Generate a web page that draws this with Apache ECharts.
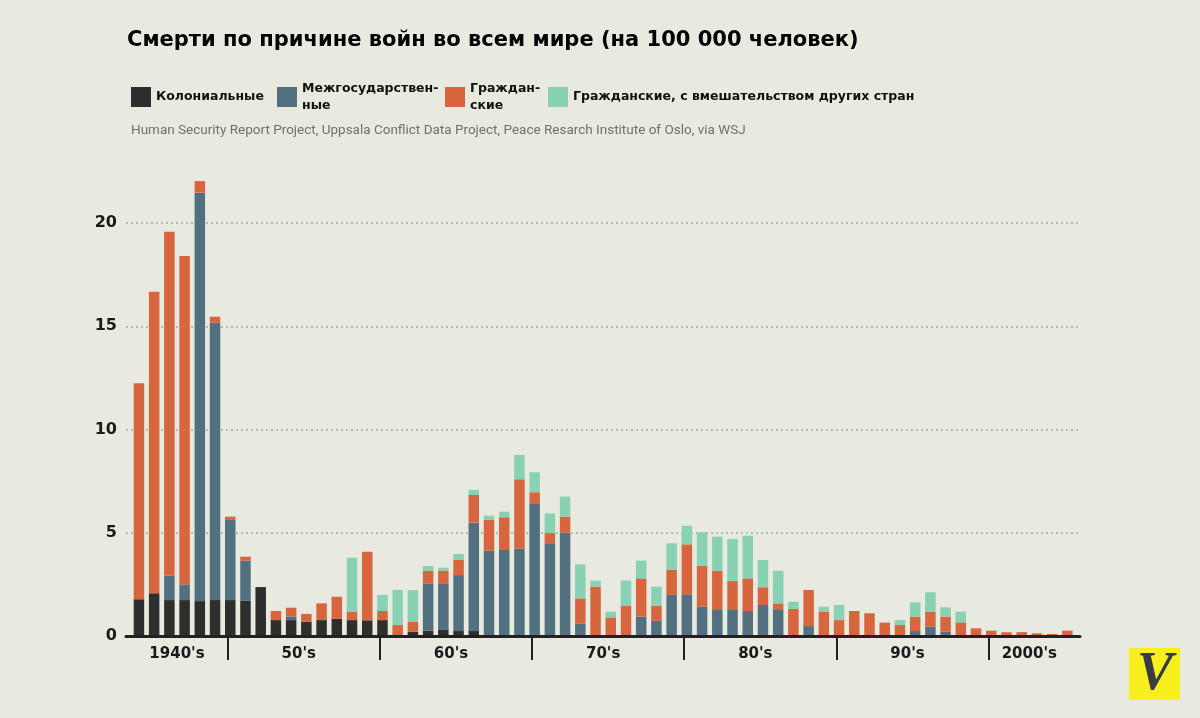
<!DOCTYPE html>
<html>
<head>
<meta charset="utf-8">
<script src="https://cdn.jsdelivr.net/npm/echarts@6/dist/echarts.min.js"></script>
<style>
html,body{margin:0;padding:0;background:#e8e9df;}
#chart{width:1200px;height:718px;}
</style>
</head>
<body>
<div id="chart"></div>
<script>
// ---- data ----
var years = [];
for (var y = 1944; y <= 2005; y++) years.push(String(y));

var seriesNames = ['Колониальные', 'Межгосударственные', 'Гражданские', 'Гражданские, с вмешательством других стран'];
var legendLabels = ['Колониальные', 'Межгосударствен-\nные', 'Граждан-\nские', 'Гражданские, с вмешательством других стран'];

var colonial = [1.78,2.07,1.74,1.74,1.69,1.74, 1.74,1.72,2.37,0.77,0.77,0.69,0.77,0.83,0.77,0.76,
  0.77,0,0.2,0.26,0.32,0.24,0.24,0,0,0, 0,0,0,0,0,0,0,0,0,0, 0,0,0,0,0,0,0,0,0,0,
  0,0,0,0,0,0,0,0,0,0, 0,0,0,0,0,0];
var interstate = [0,0,1.18,0.76,19.78,13.43, 3.88,1.93,0,0,0.17,0,0,0,0,0,
  0,0,0,2.29,2.2,2.71,5.25,4.13,4.16,4.24, 6.39,4.49,5.0,0.61,0,0,0,0.94,0.73,1.99,
  2.02,1.42,1.26,1.26,1.21,1.5,1.26,0,0.48,0, 0,0,0,0,0,0.24,0.45,0.21,0,0, 0,0,0,0,0,0];
var civil = [10.46,14.6,16.66,15.9,0.56,0.29, 0.16,0.19,0,0.44,0.43,0.38,0.81,1.07,0.41,3.32,
  0.44,0.53,0.48,0.61,0.64,0.73,1.34,1.49,1.59,3.35, 0.57,0.51,0.78,1.21,2.39,0.9,1.45,1.85,0.74,1.21,
  2.42,1.98,1.9,1.4,1.58,0.86,0.32,1.31,1.75,1.18, 0.77,1.21,1.1,0.65,0.53,0.7,0.73,0.73,0.66,0.37,
  0.26,0.18,0.19,0.13,0.1,0.26];
var internationalized = [0,0,0,0,0,0, 0,0,0,0,0,0,0,0,2.61,0,
  0.78,1.7,1.54,0.23,0.15,0.29,0.24,0.21,0.27,1.18, 0.97,0.94,0.97,1.65,0.29,0.28,1.23,0.86,0.92,1.29,
  0.9,1.62,1.65,2.04,2.07,1.32,1.58,0.35,0,0.24, 0.73,0,0,0,0.24,0.69,0.94,0.45,0.52,0,
  0,0,0,0,0,0];

var decadeLabels = ["1940's", "50's", "60's", "70's", "80's", "90's", "2000's"];
var decadeStartYears = [1944, 1950, 1960, 1970, 1980, 1990, 2000];
var yTicks = [0, 5, 10, 15, 20];

var colors = ['#2e2e2e', '#52707f', '#d7663f', '#88d1b3'];

// ---- layout helpers ----
var GRID_L = 126, GRID_R = 1080, X_MIN = -0.85, X_MAX = 61.83;
var pxPer = (GRID_R - GRID_L) / (X_MAX - X_MIN);
var catLeft = GRID_L + (-0.5 - X_MIN) * pxPer;
var catRight = GRID_L + (years.length - 0.5 - X_MIN) * pxPer;

function idx(yearStr) { return years.indexOf(yearStr); }
var labelPos = [], tickPos = [];
for (var d = 0; d < decadeStartYears.length; d++) {
  var s = idx(String(decadeStartYears[d]));
  var e = d + 1 < decadeStartYears.length ? idx(String(decadeStartYears[d + 1])) - 1 : years.length - 1;
  labelPos.push((s + e) / 2);
  if (d > 0) tickPos.push(s - 0.5 + 0.32);
}

var rawSeries = [colonial, interstate, civil, internationalized];
var series = rawSeries.map(function (arr, k) {
  return {
    name: seriesNames[k], type: 'bar', stack: 'total', barWidth: 10.5, clip: false,
    xAxisIndex: 1, yAxisIndex: 1,
    itemStyle: { color: colors[k] },
    data: arr
  };
});

var FONT = 'DejaVu Sans';
var legends = seriesNames.map(function (n, k) {
  var lefts = [131, 277, 445, 548];
  var two = legendLabels[k].indexOf('\n') >= 0;
  return {
    data: [n], left: lefts[k], top: two ? 80 : 87, orient: 'horizontal', padding: 0,
    itemWidth: 20, itemHeight: 20, icon: 'rect', selectedMode: false,
    formatter: function () { return legendLabels[k]; },
    textStyle: { fontFamily: FONT, fontWeight: 'bold', fontSize: 12.5, color: '#111', lineHeight: 17 }
  };
});

var chart = echarts.init(document.getElementById('chart'));
chart.setOption({
  backgroundColor: '#e8e9df',
  animation: false,
  title: [
    { text: 'Смерти по причине войн во всем мире (на 100 000 человек)', left: 127, top: 30, padding: 0,
      textStyle: { fontFamily: FONT, fontWeight: 'bold', fontSize: 21, color: '#000' } },
    { text: 'Human Security Report Project, Uppsala Conflict Data Project, Peace Resarch Institute of Oslo, via WSJ',
      left: 131, top: 124, padding: 0, textStyle: { fontFamily: 'Roboto', fontWeight: 'normal', fontSize: 13.5, color: '#707070' } }
  ],
  legend: legends,
  grid: [
    { left: GRID_L, right: 1200 - GRID_R, top: 223, bottom: 82, containLabel: false },
    { left: catLeft, right: 1200 - catRight, top: 223, bottom: 82, containLabel: false }
  ],
  xAxis: [
    {
      gridIndex: 0, type: 'value', min: X_MIN, max: X_MAX, z: 5,
      splitLine: { show: false },
      axisLine: { show: true, onZero: true, lineStyle: { color: '#222', width: 3 } },
      axisTick: { show: true, customValues: tickPos, length: 24, lineStyle: { color: '#222', width: 2 } },
      axisLabel: {
        show: true, customValues: labelPos, margin: 11,
        fontFamily: FONT, fontWeight: 'bold', fontSize: 15, color: '#1a1a1a',
        formatter: function (v) {
          for (var i = 0; i < labelPos.length; i++) if (Math.abs(labelPos[i] - v) < 1e-6) return decadeLabels[i];
          return '';
        }
      }
    },
    {
      gridIndex: 1, type: 'category', data: years, boundaryGap: true,
      axisLine: { show: false }, axisTick: { show: false }, axisLabel: { show: false }, splitLine: { show: false }
    }
  ],
  yAxis: [
    {
      gridIndex: 0, type: 'value', min: yTicks[0], max: yTicks[yTicks.length - 1], interval: yTicks[1] - yTicks[0],
      axisLine: { show: false }, axisTick: { show: false },
      axisLabel: { margin: 9, fontFamily: FONT, fontWeight: 'bold', fontSize: 16, color: '#1a1a1a' },
      splitLine: { show: true, lineStyle: { color: '#a8a8a0', width: 1.5, type: [2, 3] } }
    },
    {
      gridIndex: 1, type: 'value', min: yTicks[0], max: yTicks[yTicks.length - 1], interval: yTicks[1] - yTicks[0],
      show: false
    }
  ],
  graphic: [
    { type: 'rect', left: 1129, top: 648, shape: { width: 51, height: 52 }, style: { fill: '#f6ef1d' } },
    { type: 'text', left: 1137, top: 648, style: { text: 'V', fontFamily: 'Liberation Serif', fontStyle: 'italic', fontWeight: 'bold', fontSize: 54, fill: '#3b3b45' } }
  ],
  series: series
});
</script>
</body>
</html>
